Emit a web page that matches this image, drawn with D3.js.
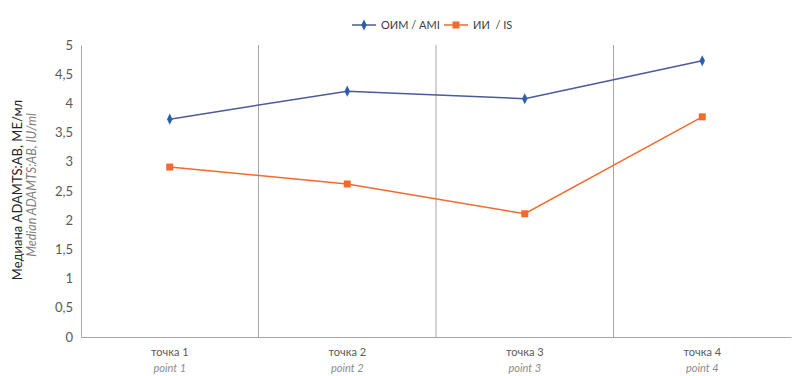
<!DOCTYPE html>
<html><head><meta charset="utf-8">
<script src="https://cdn.jsdelivr.net/npm/d3@7"></script>
<style>body{margin:0;background:#fff;} text{font-family:"Lato","Open Sans",sans-serif;}</style>
</head><body><svg id="c" width="804" height="376"></svg>
<script>
const categoriesRu = ["точка 1","точка 2","точка 3","точка 4"];
const categoriesEn = ["point 1","point 2","point 3","point 4"];
const amiValues = [3.73, 4.21, 4.08, 4.73];
const isValues = [2.91, 2.62, 2.11, 3.77];
const yTicks = [0,0.5,1,1.5,2,2.5,3,3.5,4,4.5,5];
const seriesNames = ["ОИМ / AMI","ИИ  / IS"];

const svg = d3.select("#c");
const m = {l:81, r:13, t:45, b:39};
const W = 804, H = 376;
const x = d3.scaleBand().domain(categoriesRu).range([m.l, W-m.r]).padding(0);
const y = d3.scaleLinear().domain([0,5]).range([H-m.b, m.t]);
const grid = "#a6a6a6";

// vertical separators
svg.append("g").selectAll("line").data(categoriesRu.slice(1)).join("line")
  .attr("x1", d=>x(d)).attr("x2", d=>x(d)).attr("y1", y(5)).attr("y2", y(0))
  .attr("stroke", grid).attr("stroke-width", 1);

// y axis
const ya = svg.append("g").attr("transform",`translate(${m.l},0)`)
  .call(d3.axisLeft(y).tickValues(yTicks).tickSize(0).tickPadding(8)
    .tickFormat(d=>String(d).replace(".",",")));
ya.select(".domain").attr("stroke", grid);
ya.selectAll("text").attr("fill","#595959").style("font-size","13px");

// x axis
const xa = svg.append("g").attr("transform",`translate(0,${y(0)})`)
  .call(d3.axisBottom(x).tickSize(0).tickFormat(""));
xa.select(".domain").attr("stroke", grid);
xa.selectAll(".tick").each(function(d,i){
  const g = d3.select(this);
  g.append("text").attr("y",19).attr("text-anchor","middle").attr("fill","#595959")
    .style("font-size","11px").text(categoriesRu[i]);
  g.append("text").attr("y",35).attr("text-anchor","middle").attr("fill","#8c8c8c")
    .style("font-size","11px").style("font-style","italic").text(categoriesEn[i]);
});

// y title
svg.append("text").attr("transform","translate(22,190) rotate(-90)")
  .attr("text-anchor","middle").attr("fill","#262626").style("font-size","13px")
  .text("Медиана ADAMTS:AB, МЕ/мл");
svg.append("text").attr("transform","translate(36,185) rotate(-90)")
  .attr("text-anchor","middle").attr("fill","#7f7f7f")
  .style("font-size","12.5px").style("font-style","italic").text("Median ADAMTS:AB, IU/ml");

const cx = d => x(d)+x.bandwidth()/2;
const line = d3.line().x((v,i)=>cx(categoriesRu[i])).y(v=>y(v));

const blue = "#4a5a9c", blueM = "#2f5ea8", orange = "#f26a2e";
svg.append("path").datum(amiValues).attr("d",line).attr("fill","none").attr("stroke",blue).attr("stroke-width",1.5);
svg.append("path").datum(isValues).attr("d",line).attr("fill","none").attr("stroke",orange).attr("stroke-width",1.5);

const diamond = d3.symbol().type(d3.symbolDiamond).size(36);
svg.append("g").selectAll("path").data(amiValues).join("path")
  .attr("d",diamond).attr("transform",(v,i)=>`translate(${cx(categoriesRu[i])},${y(v)}) scale(0.85,1)`)
  .attr("fill",blueM);
svg.append("g").selectAll("rect").data(isValues).join("rect")
  .attr("x",(v,i)=>cx(categoriesRu[i])-3.5).attr("y",v=>y(v)-3.5).attr("width",7).attr("height",7)
  .attr("fill",orange);

// legend
const lg = svg.append("g");
const l1 = lg.append("g").attr("transform","translate(352,25)");
l1.append("line").attr("x1",0).attr("x2",24).attr("stroke",blue).attr("stroke-width",1.5);
l1.append("path").attr("d",diamond).attr("transform","translate(12,0) scale(0.85,1)").attr("fill",blueM);
l1.append("text").attr("x",29).attr("y",4).attr("fill","#404040").style("font-size","11px").text(seriesNames[0]);
const l2 = lg.append("g").attr("transform","translate(444,25)");
l2.append("line").attr("x1",0).attr("x2",24).attr("stroke",orange).attr("stroke-width",1.5);
l2.append("rect").attr("x",8.5).attr("y",-3.5).attr("width",7).attr("height",7).attr("fill",orange);
l2.append("text").attr("x",29).attr("y",4).attr("fill","#404040").style("font-size","11px").style("white-space","pre").text(seriesNames[1]);
</script></body></html>
